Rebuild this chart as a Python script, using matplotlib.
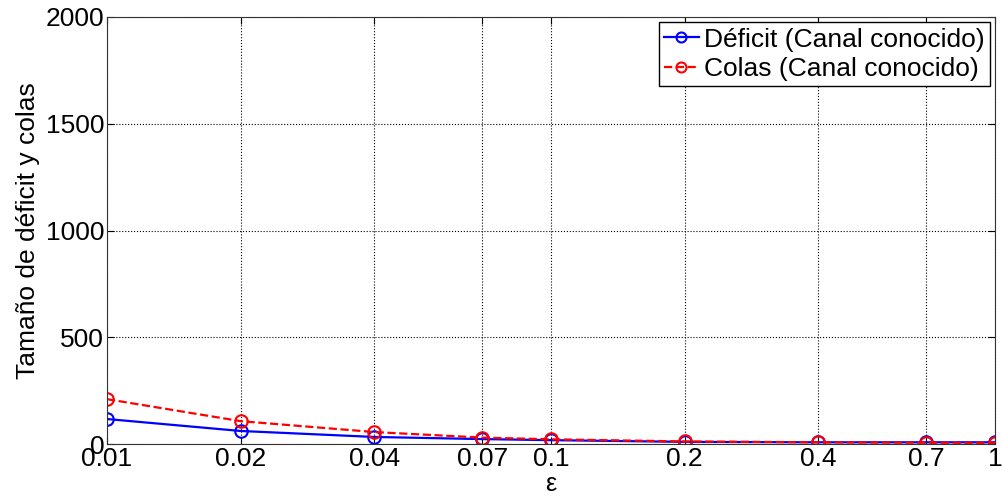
import numpy as np
import matplotlib.pyplot as plt
from matplotlib.ticker import FixedLocator, FixedFormatter, NullLocator

plt.rcParams['font.family'] = ['Liberation Sans', 'DejaVu Sans']

eps = [0.01, 0.02, 0.04, 0.07, 0.1, 0.2, 0.4, 0.7, 1.0]
deficit = [117, 61, 33, 23, 18, 10, 8, 8, 8]
colas = [210, 107, 56, 30, 22, 12, 8, 6, 5]
xtick_labels = ['0.01', '0.02', '0.04', '0.07', '0.1', '0.2', '0.4', '0.7', '1']

fig = plt.figure(figsize=(10.03, 5.0), dpi=100)
ax = fig.add_axes([0.1067, 0.112, 0.8853, 0.854])

ax.plot(eps, deficit, '-o', color='blue', lw=1.6, ms=9, mfc='none', mew=1.5,
        label='Déficit (Canal conocido)')
ax.plot(eps, colas, '--o', color='red', lw=1.6, ms=9, mfc='none', mew=1.5,
        label='Colas (Canal conocido)')

ax.set_xscale('log')
ax.set_xlim(0.01, 1)
ax.set_ylim(0, 2000)
ax.xaxis.set_major_locator(FixedLocator(eps))
ax.xaxis.set_major_formatter(FixedFormatter(xtick_labels))
ax.xaxis.set_minor_locator(NullLocator())
ax.set_yticks([0, 500, 1000, 1500, 2000])

ax.grid(True, which='major', color='black', linestyle=':', linewidth=0.8)
ax.tick_params(direction='in', top=True, right=True, labelsize=19, length=5, pad=2)
for s in ax.spines.values():
    s.set_color('#333333')

ax.set_xlabel('ε', fontsize=18, labelpad=1)
ax.set_ylabel('Tamaño de déficit y colas', fontsize=19, labelpad=4)

leg = ax.legend(loc='upper right', fontsize=19, fancybox=False, framealpha=1,
                edgecolor='black', borderaxespad=0.2, handlelength=1.3,
                handletextpad=0.2, borderpad=0.2, labelspacing=0.2,
                markerscale=0.8)
leg.get_frame().set_linewidth(1.0)

fig.savefig('out.png', dpi=100)
